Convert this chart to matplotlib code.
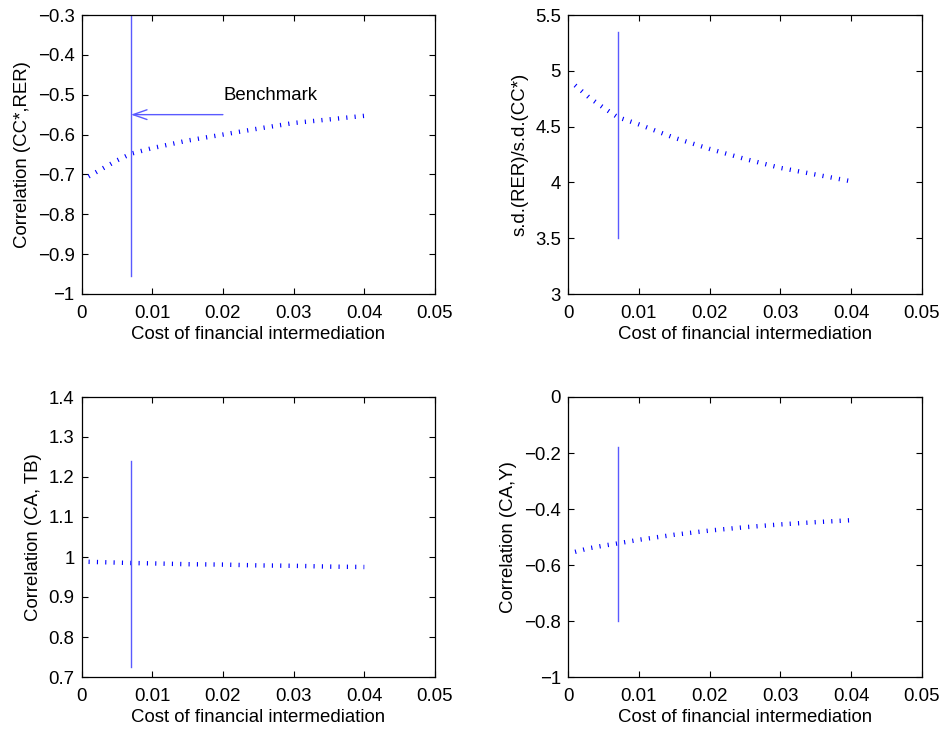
import numpy as np
import matplotlib.pyplot as plt
from matplotlib.ticker import FuncFormatter, MultipleLocator

plt.rcParams['font.family'] = ['Liberation Sans', 'DejaVu Sans']
plt.rcParams['lines.scale_dashes'] = False

# cost of financial intermediation
cost = [0.001, 0.003, 0.005, 0.007, 0.01, 0.015, 0.02, 0.025, 0.03, 0.035, 0.04]

corr_cc_rer = [-0.705, -0.685, -0.665, -0.648, -0.634, -0.615, -0.600, -0.585, -0.571, -0.562, -0.553]
sd_ratio = [4.87, 4.76, 4.67, 4.585, 4.52, 4.40, 4.30, 4.21, 4.13, 4.07, 4.01]
corr_ca_tb = [0.988, 0.987, 0.986, 0.985, 0.984, 0.982, 0.981, 0.979, 0.978, 0.976, 0.975]
corr_ca_y = [-0.553, -0.540, -0.531, -0.523, -0.510, -0.492, -0.477, -0.465, -0.455, -0.447, -0.440]

benchmark = 0.007
# vertical benchmark line extents per panel
bench_lo = [-0.955, 3.5, 0.725, -0.8]
bench_hi = [-0.3, 5.35, 1.24, -0.18]

series = [corr_cc_rer, sd_ratio, corr_ca_tb, corr_ca_y]
ylabels = ['Correlation (CC*,RER)', 's.d.(RER)/s.d.(CC*)',
           'Correlation (CA, TB)', 'Correlation (CA,Y)']
ylims = [(-1, -0.3), (3, 5.5), (0.7, 1.4), (-1, 0)]
ysteps = [0.1, 0.5, 0.1, 0.2]

# axes rectangles in pixels: left, top, width, height
W, H = 943, 731
boxes = [(81.5, 15, 353.5, 279), (568, 15, 354, 279),
         (81.5, 397, 353.5, 280), (568, 397, 354, 280)]

fig = plt.figure(figsize=(W / 100, H / 100), dpi=100)
FS = 13.4


def fmt(v, pos):
    s = '%g' % round(v, 6)
    if s == '-0':
        s = '0'
    return s.replace('-', '\u2212')


for i in range(4):
    l, t, w, h = boxes[i]
    ax = fig.add_axes([l / W, 1 - (t + h) / H, w / W, h / H])
    ax.plot(cost, series[i], color='blue', linewidth=3.2,
            linestyle=(0, (0.8, 5.2)), dash_capstyle='butt')
    ax.plot([benchmark, benchmark], [bench_lo[i], bench_hi[i]],
            color='#5a5aff', linewidth=1.0)

    ax.set_xlim(0, 0.05)
    ax.set_ylim(*ylims[i])
    ax.xaxis.set_major_locator(MultipleLocator(0.01))
    ax.yaxis.set_major_locator(MultipleLocator(ysteps[i]))
    ax.xaxis.set_major_formatter(FuncFormatter(fmt))
    ax.yaxis.set_major_formatter(FuncFormatter(fmt))
    ax.tick_params(direction='in', top=True, right=True, length=4,
                   width=0.8, labelsize=FS)
    ax.tick_params(axis='x', pad=8)
    ax.tick_params(axis='y', pad=5)
    for sp in ax.spines.values():
        sp.set_linewidth(0.9)
    ax.set_xlabel('Cost of financial intermediation', fontsize=FS, labelpad=3)
    ax.set_ylabel(ylabels[i], fontsize=FS, labelpad=5)

    if i == 0:
        ax.annotate('', xy=(benchmark, -0.55), xytext=(0.02, -0.55),
                    arrowprops=dict(arrowstyle='->,head_length=1.0,head_width=0.35',
                                    color='#5a5aff', lw=1.0, shrinkA=0, shrinkB=0))
        ax.text(0.0201, -0.503, 'Benchmark', fontsize=FS, va='center', ha='left')

fig.savefig('out.png', dpi=100)
